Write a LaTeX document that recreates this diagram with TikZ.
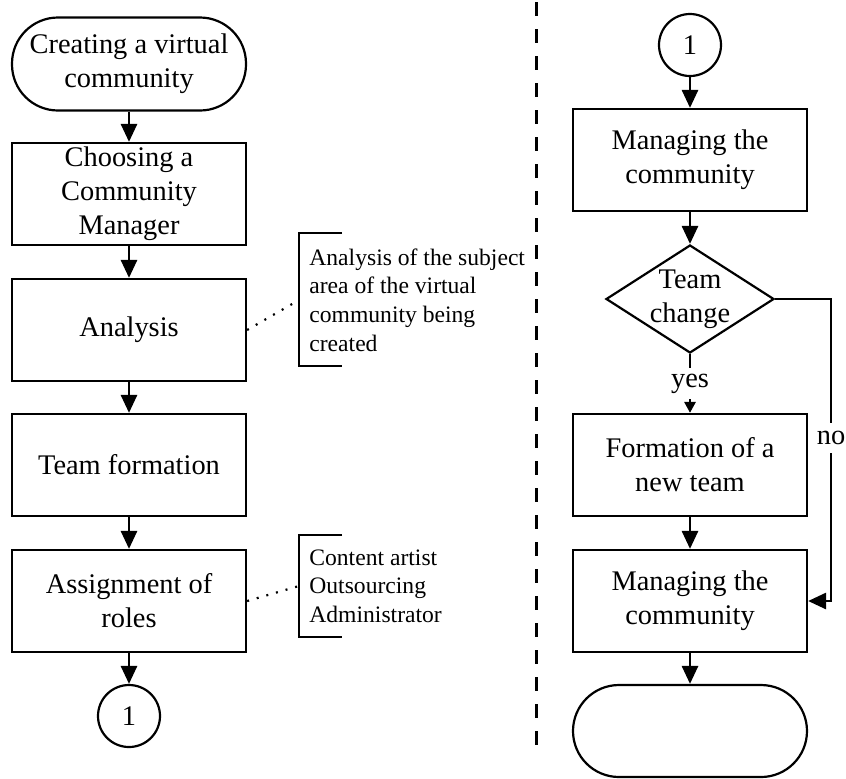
\documentclass[tikz,border=0pt]{standalone}
\usepackage{fontspec}
\setmainfont{Liberation Serif}
\usetikzlibrary{arrows.meta,shapes.geometric}

\begin{document}
\begin{tikzpicture}[x=0.5pt,y=-0.5pt,
    box/.style={draw,line width=1.1pt,minimum width=117pt,minimum height=51pt,inner sep=2pt,align=center,font=\fontsize{14.2}{17}\selectfont},
    term/.style={box,rounded corners=23pt,minimum height=46.5pt},
    conn/.style={draw,circle,line width=1.1pt,minimum size=31pt,inner sep=0pt,font=\fontsize{14.2}{17}\selectfont},
    flow/.style={line width=1.4pt,-{Triangle[width=8pt,length=9pt]}},
    note/.style={align=left,anchor=west,inner sep=0pt,font=\fontsize{11.8}{14.3}\selectfont},
    lbl/.style={fill=white,font=\fontsize{14.2}{17}\selectfont},
    brace/.style={line width=1.1pt},
    dots/.style={line width=1.1pt,dash pattern=on 1pt off 4pt}]
    \useasboundingbox (0,0) rectangle (846,778);

    % Left column %
    \node[term] (start) at (129,64) {Creating a virtual\\community};
    \node[box] (choose) at (129,194) {Choosing a\\Community\\Manager};
    \node[box] (analysis) at (129,330) {Analysis};
    \node[box] (teamform) at (129,465) {Team formation};
    \node[box] (assign) at (129,601) {Assignment of\\roles};
    \node[conn] (jumpout) at (129,716) {1};
    \draw[flow] (start) -- (choose);
    \draw[flow] (choose) -- (analysis);
    \draw[flow] (analysis) -- (teamform);
    \draw[flow] (teamform) -- (assign);
    \draw[flow] (assign) -- (jumpout);

    % Notes %
    \node[note] (subject) at (309,300) {Analysis of the subject\\area of the virtual\\community being\\created};
    \coordinate (subjtip) at (299,300);
    \draw[brace] (342,233) -- (299,233) -- (299,366) -- (342,366);
    \draw[dots] (analysis.east) -- (subjtip);
    \node[note] (roles) at (309,586) {Content artist\\Outsourcing\\Administrator};
    \coordinate (rolestip) at (299,586);
    \draw[brace] (342,535) -- (299,535) -- (299,637) -- (342,637);
    \draw[dots] (assign.east) -- (rolestip);

    % Separator %
    \draw[line width=1.5pt,dash pattern=on 7pt off 6.5pt] (536,2) -- (536,745);

    % Right column %
    \node[conn] (jumpin) at (690,45) {1};
    \node[box] (manage) at (690,160) {Managing the\\community};
    \node[draw,diamond,line width=1.1pt,minimum width=84pt,minimum height=54pt,inner sep=0pt] (change) at (690,299) {};
    \node[align=center,font=\fontsize{14.2}{17}\selectfont] (changetext) at (change) {Team\\change};
    \node[box] (newteam) at (690,465) {Formation of a\\new team};
    \node[box] (remanage) at (690,601) {Managing the\\community};
    \node[term,minimum height=46pt] (finish) at (690,731) {};
    \coordinate (noturn) at (831,299);
    \draw[flow] (jumpin) -- (manage);
    \draw[flow] (manage) -- (change);
    \draw[line width=1.4pt,-{Triangle[width=5.5pt,length=5.5pt]}] (change.south) -- node[lbl,pos=0.5,inner xsep=3pt,inner ysep=3pt] (yes) {yes} (newteam.north);
    \draw[flow] (newteam) -- (remanage);
    \draw[flow] (change.east) -- (noturn) |- node[lbl,pos=0.23,inner sep=4pt] (no) {no} (remanage.east);
    \draw[flow] (remanage) -- (finish);
\end{tikzpicture}
\end{document}
